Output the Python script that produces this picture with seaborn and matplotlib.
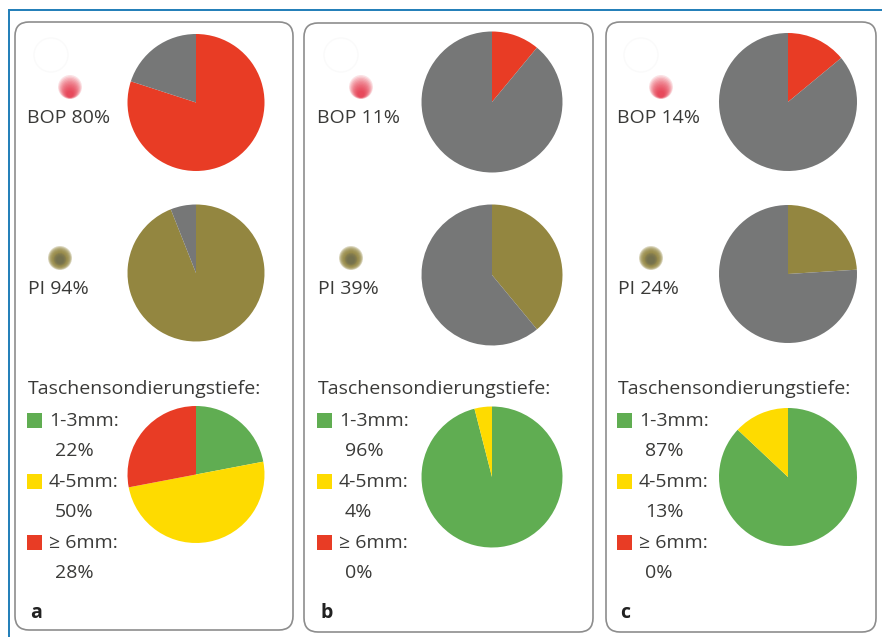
import matplotlib
matplotlib.use("Agg")
import matplotlib.pyplot as plt
from matplotlib.patches import Circle, FancyBboxPatch, Rectangle
import seaborn as sns

panel_labels = ['a', 'b', 'c']
bop_values = [80, 11, 14]
pi_values = [94, 39, 24]
depth_labels = ['1-3mm:', '4-5mm:', '≥ 6mm:']
depth_shallow = [22, 96, 87]
depth_medium = [50, 4, 13]
depth_deep = [28, 0, 0]

RED = '#e83c25'
DOT_RED = '#e5233a'
GRAY = '#767777'
OLIVE = '#938640'
GREEN = '#60ad52'
YELLOW = '#fedb00'
TEXT = '#3a3a38'
FS = 14
W, H = 882, 637

sns.set_theme(style='white')
plt.rcParams['font.family'] = ['Open Sans', 'DejaVu Sans']

fig = plt.figure(figsize=(W / 100, H / 100), dpi=100)

# full-figure axes in pixel coordinates for the frames and text
bg = fig.add_axes([0, 0, 1, 1])
bg.set_xlim(0, W)
bg.set_ylim(H, 0)
bg.axis('off')

bg.plot([8.5, 8.5, W], [H, 9.5, 9.5], color='#1f7db8', lw=1.4, solid_joinstyle='miter')

boxes = [(15, 22, 278, 608), (304, 23, 289, 609), (606, 22, 270, 610)]
pie_x = [196, 492, 788]
pie_y = [[102.5, 273, 474.5], [102, 275, 477], [102, 274, 477]]
radius = [68.5, 70.5, 69]
text_x = [27, 317, 617]
dot_x = [[70, 60], [361, 351], [661, 651]]


def add_pie(cx, cy, r, values, colors):
    ax = fig.add_axes([(cx - r) / W, 1 - (cy + r) / H, 2 * r / W, 2 * r / H])
    ax.pie(values, colors=colors, startangle=90, counterclock=False, radius=1,
           wedgeprops={'linewidth': 0})
    ax.set_xlim(-1, 1)
    ax.set_ylim(-1, 1)
    ax.set_aspect('auto')
    ax.axis('off')


def add_dot(x, y, outer, inner, shift, alpha):
    # soft dot built from stacked translucent circles
    for i in range(12):
        r = 12 - i * 0.8
        bg.add_patch(Circle((x, y + shift * i / 11), r, fc=outer if i < 7 else inner,
                            ec='none', alpha=alpha, zorder=2))


for i, label in enumerate(panel_labels):
    x, y, w, h = boxes[i]
    bg.add_patch(FancyBboxPatch((x + 14, y + 14), w - 28, h - 28,
                                boxstyle='round,pad=14,rounding_size=14',
                                fc='white', ec='#8d8d8d', lw=1.2, zorder=1))
    tx = text_x[i]

    # faint ghost ring left in the top corner of each panel
    bg.add_patch(Circle((tx + 24, 55), 17, fc='none', ec='#fafafa', lw=1, zorder=2))

    bop = bop_values[i]
    add_pie(pie_x[i], pie_y[i][0], radius[i], [bop, 100 - bop], [RED, GRAY])
    add_dot(dot_x[i][0], 87, DOT_RED, DOT_RED, 7, 0.13)
    bg.text(tx, 118, f'BOP {bop}%', fontsize=FS, color=TEXT, va='center', zorder=3)

    pi = pi_values[i]
    add_pie(pie_x[i], pie_y[i][1], radius[i], [pi, 100 - pi], [OLIVE, GRAY])
    add_dot(dot_x[i][1], 258, OLIVE, '#6f6d50', 2, 0.32)
    bg.text(tx + 0.5, 289, f'PI {pi}%', fontsize=FS, color=TEXT, va='center', zorder=3)

    depth = [depth_shallow[i], depth_medium[i], depth_deep[i]]
    add_pie(pie_x[i], pie_y[i][2], radius[i], depth, [GREEN, YELLOW, RED])
    bg.text(tx + 1, 389, 'Taschensondierungstiefe:', fontsize=FS, color=TEXT,
            va='center', zorder=3)

    for j, (name, val, col) in enumerate(zip(depth_labels, depth, [GREEN, YELLOW, RED])):
        row = 420 + j * 61
        bg.add_patch(Rectangle((tx, row - 7), 15, 15, fc=col, ec='none', zorder=3))
        bg.text(tx + 22, row + 1, name, fontsize=FS, color=TEXT, va='center', zorder=3)
        bg.text(tx + 28, row + 31, f'{val}%', fontsize=FS, color=TEXT, va='center', zorder=3)

    bg.text(tx + 3, 613, label, fontsize=FS, fontweight='bold', color='#222222',
            va='center', zorder=3)

fig.savefig('out.png', dpi=100)
plt.close(fig)
